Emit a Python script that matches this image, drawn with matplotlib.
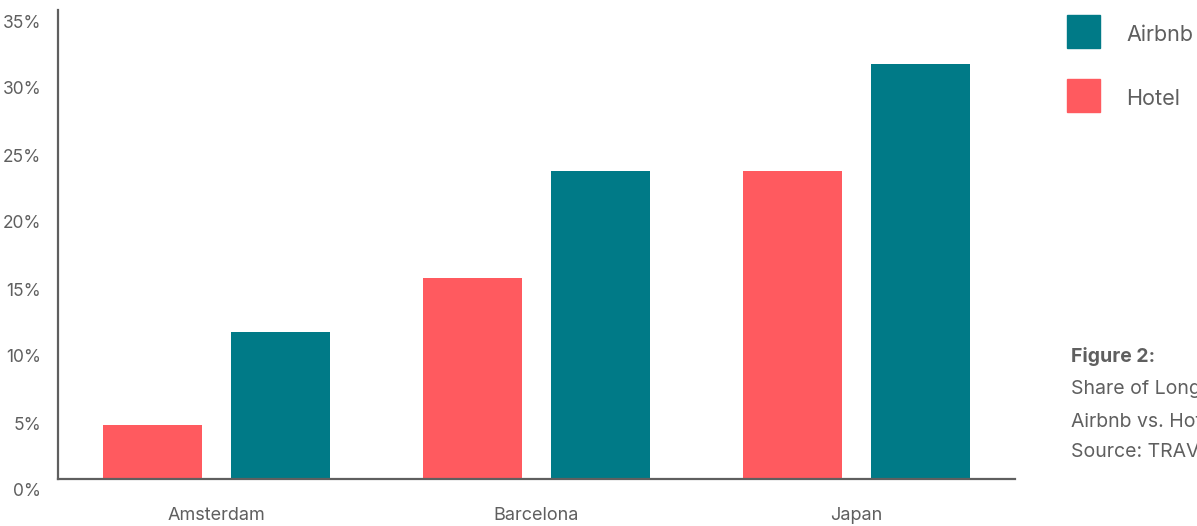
import matplotlib
matplotlib.use("Agg")
import matplotlib.pyplot as plt
import matplotlib.transforms as mtransforms
from matplotlib.patches import Rectangle
import numpy as np

# data
cities = ["Amsterdam", "Barcelona", "Japan"]
hotel = [4, 15, 23]
airbnb = [11, 23, 31]
yticks = [0, 5, 10, 15, 20, 25, 30, 35]

teal = "#007A87"
coral = "#FF5A5F"
axis_grey = "#5f5f5f"
text_grey = "#5f5f5f"

plt.rcParams["font.family"] = ["Inter", "DejaVu Sans"]

W, H = 1197, 526
fig = plt.figure(figsize=(W / 100, H / 100), dpi=100)
ax = fig.add_axes([58 / W, (H - 479) / H, (1015 - 58) / W, (479 - 10) / H])

x = np.arange(len(cities))
w = 0.309
ax.bar(x - 0.2, hotel, w, color=coral, label="Hotel")
ax.bar(x + 0.2, airbnb, w, color=teal, label="Airbnb")

ax.set_xlim(-0.495, 2.495)
ax.set_ylim(0, 35)
ax.set_yticks(yticks)
ax.set_yticklabels([f"{t}%" for t in yticks])
ax.set_xticks(x)
ax.set_xticklabels(cities)
ax.tick_params(axis="both", length=0, labelcolor=text_grey)
ax.tick_params(axis="y", pad=12, labelsize=12.5)
ax.tick_params(axis="x", pad=20, labelsize=13)

# y labels sit a bit lower than their tick position in the original
shift = mtransforms.ScaledTranslation(0, -11 / 100, fig.dpi_scale_trans)
for lbl in ax.get_yticklabels():
    lbl.set_transform(lbl.get_transform() + shift)

for s in ["top", "right"]:
    ax.spines[s].set_visible(False)
for s in ["left", "bottom"]:
    ax.spines[s].set_color(axis_grey)
    ax.spines[s].set_linewidth(1.6)

# legend squares + labels
for top, col, name in [(15, teal, "Airbnb"), (79, coral, "Hotel")]:
    fig.patches.append(Rectangle((1067 / W, (H - top - 33) / H), 33 / W, 33 / H,
                                 transform=fig.transFigure, color=col))
    fig.text(1126 / W, 1 - (top + 20) / H, name, fontsize=15.5,
             color=text_grey, va="center")

cap_x = 1071 / W
fig.text(cap_x, 1 - 356 / H, "Figure 2:", fontsize=14, fontweight="bold",
         color=text_grey, va="center")
fig.text(cap_x, 1 - 389 / H, "Share of Long-Term Stays", fontsize=14,
         color=text_grey, va="center")
fig.text(cap_x, 1 - 422 / H, "Airbnb vs. Hotels", fontsize=14,
         color=text_grey, va="center")
fig.text(cap_x, 1 - 452 / H, "Source: TRAVELDATA", fontsize=14,
         color=text_grey, va="center")

fig.savefig("out.png", dpi=100)
